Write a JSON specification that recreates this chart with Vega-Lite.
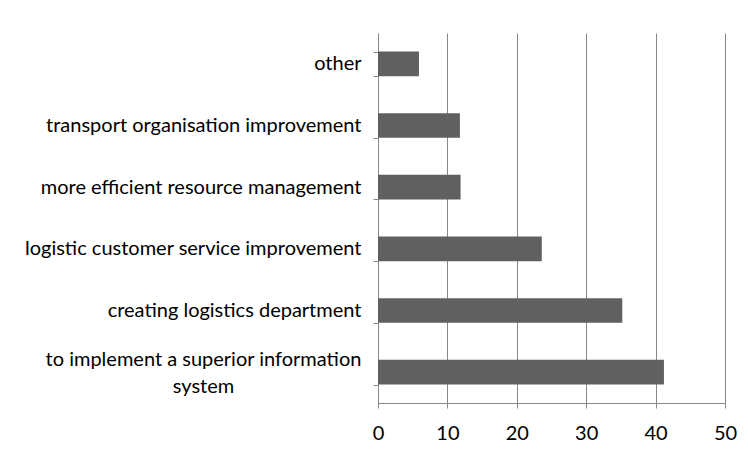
{
  "$schema": "https://vega.github.io/schema/vega-lite/v6.json",
  "width": 347,
  "height": 370,
  "autosize": {"type": "none"},
  "padding": {"left": 378, "top": 33, "right": 23, "bottom": 61},
  "background": "white",
  "data": {
    "values": [
      {"category": "other", "value": 5.9},
      {"category": "transport organisation improvement", "value": 11.8},
      {"category": "more efficient resource management", "value": 11.9},
      {"category": "logistic customer service improvement", "value": 23.6},
      {"category": "creating logistics department", "value": 35.2},
      {"category": "to implement a superior information system", "value": 41.2}
    ]
  },
  "mark": {"type": "bar", "color": "#606060"},
  "encoding": {
    "y": {
      "field": "category",
      "type": "nominal",
      "sort": null,
      "scale": {"paddingInner": 0.6, "paddingOuter": 0.3},
      "axis": {
        "title": null,
        "grid": false,
        "tickBand": "extent",
        "tickSize": 5,
        "tickColor": "#868686",
        "domainColor": "#868686",
        "labelFont": "Lato",
        "labelFontSize": 20,
        "labelColor": "#000000",
        "labelLimit": 400,
        "labelLineHeight": 27,
        "labelAlign": {"condition": {"test": "datum.value == 'to implement a superior information system'", "value": "center"}, "value": "right"},
        "labelPadding": {"condition": {"test": "datum.value == 'to implement a superior information system'", "value": 170}, "value": 12},
        "labelOffset": {"condition": {"test": "datum.value == 'to implement a superior information system'", "value": -13}, "value": 0},
        "labelExpr": "datum.value == 'to implement a superior information system' ? ['to implement a superior information', 'system'] : datum.value"
      }
    },
    "x": {
      "field": "value",
      "type": "quantitative",
      "scale": {"domain": [0, 50], "nice": false},
      "axis": {
        "title": null,
        "values": [0, 10, 20, 30, 40, 50],
        "grid": true,
        "gridColor": "#868686",
        "gridOpacity": 1,
        "tickSize": 5,
        "tickColor": "#868686",
        "domainColor": "#868686",
        "labelFont": "Lato",
        "labelFontSize": 20,
        "labelColor": "#000000",
        "labelPadding": 15,
        "labelFlush": false
      }
    }
  },
  "config": {"view": {"stroke": null}}
}
